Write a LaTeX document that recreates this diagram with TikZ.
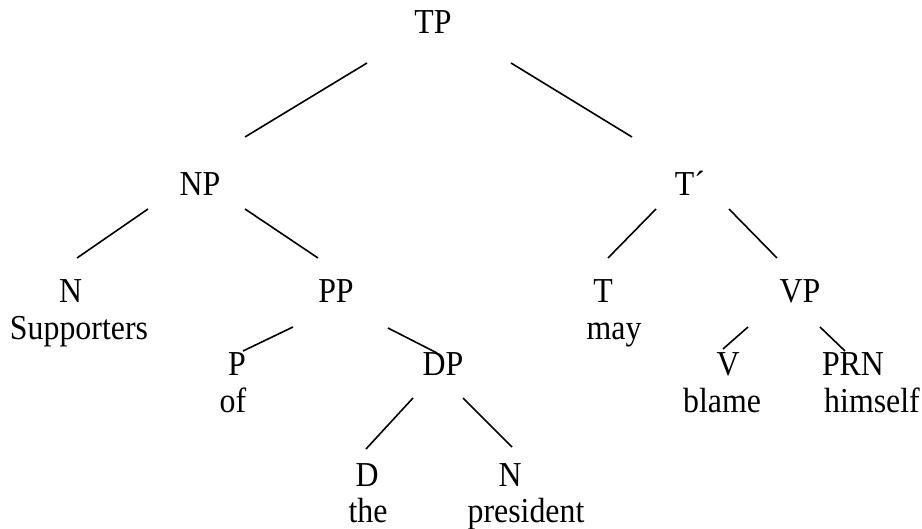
\documentclass[tikz,border=0pt]{standalone}
\usepackage{fontspec}
\setmainfont[FakeStretch=0.91]{Liberation Serif}
\usetikzlibrary{calc}

\tikzset{
    lbl/.style={anchor=base, inner sep=0pt, font=\fontsize{17.5}{20}\selectfont},
    branch/.style={line width=0.8pt}
}

\begin{document}
\begin{tikzpicture}[x=0.5pt, y=-0.5pt]

\useasboundingbox (0,0) rectangle (922,529);

% Phrase labels
\node[lbl] (TP) at (433,34) {TP};
\node[lbl] (NP) at (200,196) {NP};
\node[lbl] (Tbar) at (690,196) {T´};
\node[lbl] (Nsub) at (70.5,303) {N};
\node[lbl] (PP) at (336,303) {PP};
\node[lbl] (T) at (603,303) {T};
\node[lbl] (VP) at (800,303) {VP};
\node[lbl] (P) at (237,376) {P};
\node[lbl] (DP) at (443,376) {DP};
\node[lbl] (V) at (728,376) {V};
\node[lbl] (PRN) at (853,376) {PRN};
\node[lbl] (D) at (367,487) {D};
\node[lbl] (Npres) at (510,487) {N};

% Words
\node[lbl] (supporters) at (79,340) {Supporters};
\node[lbl] (may) at (614,340) {may};
\node[lbl] (of) at (233,413) {of};
\node[lbl] (blame) at (722,413) {blame};
\node[lbl] (himself) at (872,413) {himself};
\node[lbl] (the) at (368,523) {the};
\node[lbl] (president) at (526,523) {president};

% Branches
\draw[branch] ($(TP.base)+(-66,29)$) -- ($(NP.base)+(45,-59)$);
\draw[branch] ($(TP.base)+(78,29)$) -- ($(Tbar.base)+(-58,-59)$);

\draw[branch] ($(NP.base)+(-52,13)$) -- ($(Nsub.base)+(6.5,-45)$);
\draw[branch] ($(NP.base)+(45,13)$) -- ($(PP.base)+(-18,-45)$);
\draw[branch] ($(Tbar.base)+(-34,13)$) -- ($(T.base)+(5,-45)$);
\draw[branch] ($(Tbar.base)+(39,13)$) -- ($(VP.base)+(-23,-45)$);

\draw[branch] ($(PP.base)+(-43,24)$) -- ($(P.base)+(6,-25)$);
\draw[branch] ($(PP.base)+(52,25)$) -- ($(DP.base)+(-6,-23)$);
\draw[branch] ($(VP.base)+(-52,24)$) -- ($(V.base)+(-5,-27)$);
\draw[branch] ($(VP.base)+(20,24)$) -- ($(PRN.base)+(-8,-25)$);

\draw[branch] ($(DP.base)+(-30,22)$) -- ($(D.base)+(-1,-38)$);
\draw[branch] ($(DP.base)+(20,22)$) -- ($(Npres.base)+(2,-40)$);

\end{tikzpicture}
\end{document}
